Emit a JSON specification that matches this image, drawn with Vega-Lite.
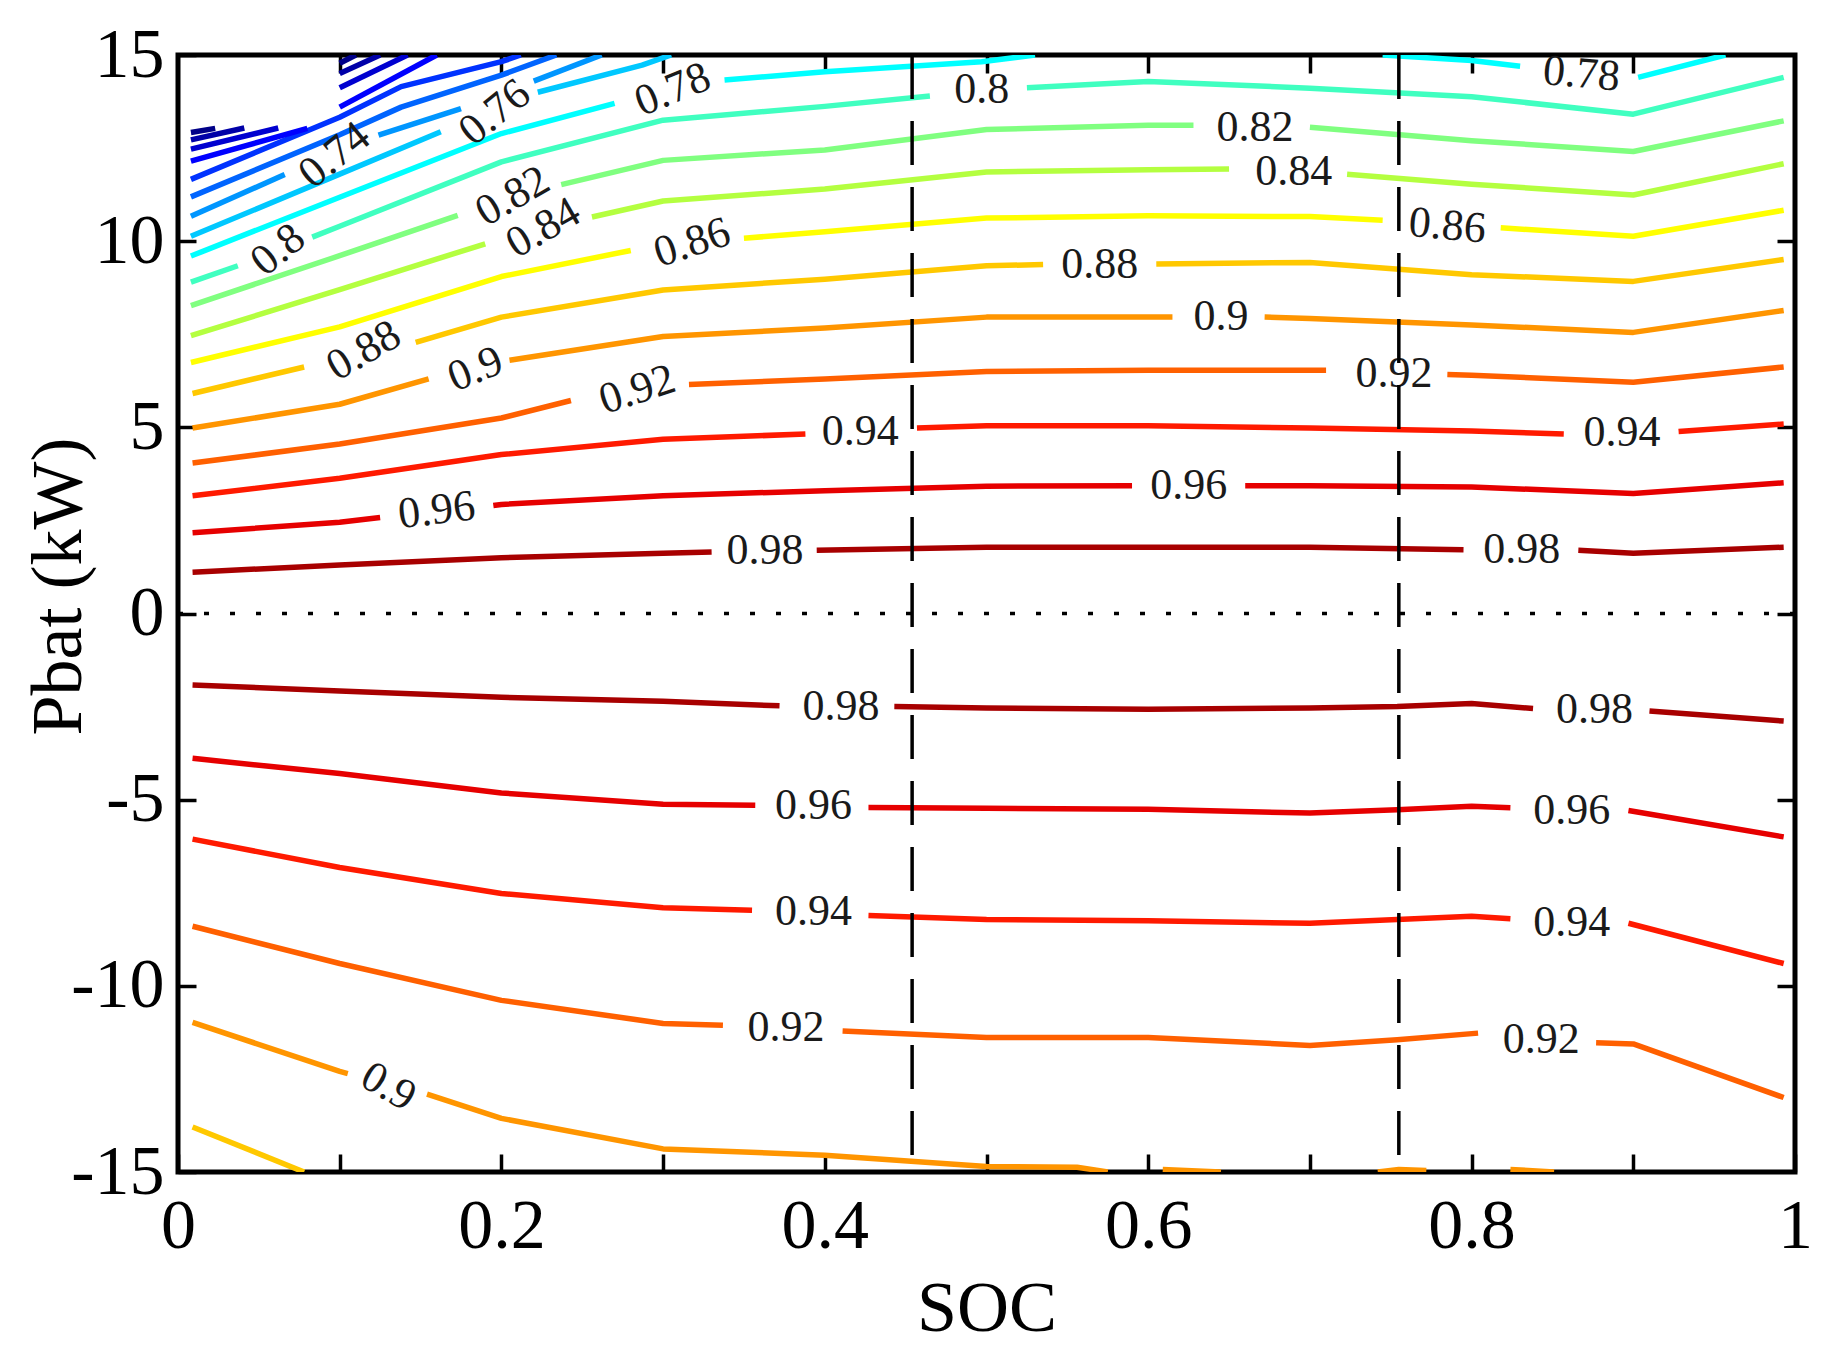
{
  "$schema": "https://vega.github.io/schema/vega-lite/v6.json",
  "description": "Contour map of efficiency over SOC and battery power Pbat, with labelled iso-efficiency lines.",
  "width": 1617,
  "height": 1117,
  "autosize": {"type": "none"},
  "padding": {"left": 178, "top": 55, "right": 33, "bottom": 192},
  "background": "white",
  "datasets": {
    "contours": [
      {"level": "0.98", "seg": "a1", "soc": 0.009, "p": 1.11}, {"level": "0.98", "seg": "a1", "soc": 0.1, "p": 1.30}, {"level": "0.98", "seg": "a1", "soc": 0.2, "p": 1.50}, {"level": "0.98", "seg": "a1", "soc": 0.3, "p": 1.62}, {"level": "0.98", "seg": "a1", "soc": 0.33, "p": 1.65},
      {"level": "0.98", "seg": "a2", "soc": 0.395, "p": 1.70}, {"level": "0.98", "seg": "a2", "soc": 0.5, "p": 1.78}, {"level": "0.98", "seg": "a2", "soc": 0.6, "p": 1.78}, {"level": "0.98", "seg": "a2", "soc": 0.7, "p": 1.78}, {"level": "0.98", "seg": "a2", "soc": 0.795, "p": 1.71},
      {"level": "0.98", "seg": "a3", "soc": 0.866, "p": 1.70}, {"level": "0.98", "seg": "a3", "soc": 0.9, "p": 1.62}, {"level": "0.98", "seg": "a3", "soc": 0.993, "p": 1.78},
      {"level": "0.98", "seg": "a4", "soc": 0.009, "p": -1.92}, {"level": "0.98", "seg": "a4", "soc": 0.1, "p": -2.08}, {"level": "0.98", "seg": "a4", "soc": 0.2, "p": -2.25}, {"level": "0.98", "seg": "a4", "soc": 0.3, "p": -2.36}, {"level": "0.98", "seg": "a4", "soc": 0.372, "p": -2.48},
      {"level": "0.98", "seg": "a5", "soc": 0.443, "p": -2.50}, {"level": "0.98", "seg": "a5", "soc": 0.5, "p": -2.54}, {"level": "0.98", "seg": "a5", "soc": 0.6, "p": -2.57}, {"level": "0.98", "seg": "a5", "soc": 0.7, "p": -2.54}, {"level": "0.98", "seg": "a5", "soc": 0.754, "p": -2.50}, {"level": "0.98", "seg": "a5", "soc": 0.8, "p": -2.42}, {"level": "0.98", "seg": "a5", "soc": 0.838, "p": -2.55},
      {"level": "0.98", "seg": "a6", "soc": 0.91, "p": -2.62}, {"level": "0.98", "seg": "a6", "soc": 0.993, "p": -2.89},

      {"level": "0.96", "seg": "b1", "soc": 0.009, "p": 2.17}, {"level": "0.96", "seg": "b1", "soc": 0.1, "p": 2.45}, {"level": "0.96", "seg": "b1", "soc": 0.125, "p": 2.58},
      {"level": "0.96", "seg": "b2", "soc": 0.195, "p": 2.90}, {"level": "0.96", "seg": "b2", "soc": 0.2, "p": 2.93}, {"level": "0.96", "seg": "b2", "soc": 0.3, "p": 3.16}, {"level": "0.96", "seg": "b2", "soc": 0.4, "p": 3.30}, {"level": "0.96", "seg": "b2", "soc": 0.5, "p": 3.42}, {"level": "0.96", "seg": "b2", "soc": 0.59, "p": 3.43},
      {"level": "0.96", "seg": "b3", "soc": 0.66, "p": 3.43}, {"level": "0.96", "seg": "b3", "soc": 0.7, "p": 3.43}, {"level": "0.96", "seg": "b3", "soc": 0.8, "p": 3.40}, {"level": "0.96", "seg": "b3", "soc": 0.9, "p": 3.22}, {"level": "0.96", "seg": "b3", "soc": 0.993, "p": 3.51},
      {"level": "0.96", "seg": "b4", "soc": 0.009, "p": -3.89}, {"level": "0.96", "seg": "b4", "soc": 0.1, "p": -4.30}, {"level": "0.96", "seg": "b4", "soc": 0.2, "p": -4.82}, {"level": "0.96", "seg": "b4", "soc": 0.3, "p": -5.12}, {"level": "0.96", "seg": "b4", "soc": 0.357, "p": -5.15},
      {"level": "0.96", "seg": "b5", "soc": 0.427, "p": -5.21}, {"level": "0.96", "seg": "b5", "soc": 0.5, "p": -5.23}, {"level": "0.96", "seg": "b5", "soc": 0.6, "p": -5.26}, {"level": "0.96", "seg": "b5", "soc": 0.7, "p": -5.36}, {"level": "0.96", "seg": "b5", "soc": 0.754, "p": -5.27}, {"level": "0.96", "seg": "b5", "soc": 0.8, "p": -5.18}, {"level": "0.96", "seg": "b5", "soc": 0.824, "p": -5.22},
      {"level": "0.96", "seg": "b6", "soc": 0.897, "p": -5.29}, {"level": "0.96", "seg": "b6", "soc": 0.993, "p": -6.0},

      {"level": "0.94", "seg": "c1", "soc": 0.009, "p": 3.16}, {"level": "0.94", "seg": "c1", "soc": 0.1, "p": 3.63}, {"level": "0.94", "seg": "c1", "soc": 0.2, "p": 4.27}, {"level": "0.94", "seg": "c1", "soc": 0.3, "p": 4.68}, {"level": "0.94", "seg": "c1", "soc": 0.388, "p": 4.82},
      {"level": "0.94", "seg": "c2", "soc": 0.457, "p": 4.98}, {"level": "0.94", "seg": "c2", "soc": 0.5, "p": 5.04}, {"level": "0.94", "seg": "c2", "soc": 0.6, "p": 5.04}, {"level": "0.94", "seg": "c2", "soc": 0.7, "p": 4.98}, {"level": "0.94", "seg": "c2", "soc": 0.8, "p": 4.90}, {"level": "0.94", "seg": "c2", "soc": 0.857, "p": 4.82},
      {"level": "0.94", "seg": "c3", "soc": 0.928, "p": 4.89}, {"level": "0.94", "seg": "c3", "soc": 0.993, "p": 5.09},
      {"level": "0.94", "seg": "c4", "soc": 0.009, "p": -6.06}, {"level": "0.94", "seg": "c4", "soc": 0.1, "p": -6.82}, {"level": "0.94", "seg": "c4", "soc": 0.2, "p": -7.52}, {"level": "0.94", "seg": "c4", "soc": 0.3, "p": -7.90}, {"level": "0.94", "seg": "c4", "soc": 0.355, "p": -7.97},
      {"level": "0.94", "seg": "c5", "soc": 0.427, "p": -8.11}, {"level": "0.94", "seg": "c5", "soc": 0.5, "p": -8.22}, {"level": "0.94", "seg": "c5", "soc": 0.6, "p": -8.25}, {"level": "0.94", "seg": "c5", "soc": 0.7, "p": -8.32}, {"level": "0.94", "seg": "c5", "soc": 0.754, "p": -8.22}, {"level": "0.94", "seg": "c5", "soc": 0.8, "p": -8.13}, {"level": "0.94", "seg": "c5", "soc": 0.824, "p": -8.20},
      {"level": "0.94", "seg": "c6", "soc": 0.897, "p": -8.32}, {"level": "0.94", "seg": "c6", "soc": 0.993, "p": -9.40},

      {"level": "0.92", "seg": "d1", "soc": 0.009, "p": 4.04}, {"level": "0.92", "seg": "d1", "soc": 0.1, "p": 4.55}, {"level": "0.92", "seg": "d1", "soc": 0.2, "p": 5.25}, {"level": "0.92", "seg": "d1", "soc": 0.243, "p": 5.72},
      {"level": "0.92", "seg": "d2", "soc": 0.316, "p": 6.15}, {"level": "0.92", "seg": "d2", "soc": 0.4, "p": 6.30}, {"level": "0.92", "seg": "d2", "soc": 0.5, "p": 6.50}, {"level": "0.92", "seg": "d2", "soc": 0.6, "p": 6.53}, {"level": "0.92", "seg": "d2", "soc": 0.71, "p": 6.53},
      {"level": "0.92", "seg": "d3", "soc": 0.785, "p": 6.42}, {"level": "0.92", "seg": "d3", "soc": 0.8, "p": 6.40}, {"level": "0.92", "seg": "d3", "soc": 0.9, "p": 6.21}, {"level": "0.92", "seg": "d3", "soc": 0.993, "p": 6.62},
      {"level": "0.92", "seg": "d4", "soc": 0.009, "p": -8.40}, {"level": "0.92", "seg": "d4", "soc": 0.1, "p": -9.40}, {"level": "0.92", "seg": "d4", "soc": 0.2, "p": -10.39}, {"level": "0.92", "seg": "d4", "soc": 0.3, "p": -11.01}, {"level": "0.92", "seg": "d4", "soc": 0.337, "p": -11.06},
      {"level": "0.92", "seg": "d5", "soc": 0.411, "p": -11.21}, {"level": "0.92", "seg": "d5", "soc": 0.5, "p": -11.39}, {"level": "0.92", "seg": "d5", "soc": 0.6, "p": -11.39}, {"level": "0.92", "seg": "d5", "soc": 0.7, "p": -11.60}, {"level": "0.92", "seg": "d5", "soc": 0.754, "p": -11.45}, {"level": "0.92", "seg": "d5", "soc": 0.804, "p": -11.27},
      {"level": "0.92", "seg": "d6", "soc": 0.877, "p": -11.53}, {"level": "0.92", "seg": "d6", "soc": 0.9, "p": -11.56}, {"level": "0.92", "seg": "d6", "soc": 0.993, "p": -13.0},

      {"level": "0.9", "seg": "e1", "soc": 0.009, "p": 4.98}, {"level": "0.9", "seg": "e1", "soc": 0.1, "p": 5.62}, {"level": "0.9", "seg": "e1", "soc": 0.155, "p": 6.30},
      {"level": "0.9", "seg": "e2", "soc": 0.205, "p": 6.80}, {"level": "0.9", "seg": "e2", "soc": 0.3, "p": 7.44}, {"level": "0.9", "seg": "e2", "soc": 0.4, "p": 7.67}, {"level": "0.9", "seg": "e2", "soc": 0.5, "p": 7.96}, {"level": "0.9", "seg": "e2", "soc": 0.615, "p": 7.96},
      {"level": "0.9", "seg": "e3", "soc": 0.672, "p": 7.96}, {"level": "0.9", "seg": "e3", "soc": 0.7, "p": 7.92}, {"level": "0.9", "seg": "e3", "soc": 0.8, "p": 7.75}, {"level": "0.9", "seg": "e3", "soc": 0.9, "p": 7.55}, {"level": "0.9", "seg": "e3", "soc": 0.993, "p": 8.14},
      {"level": "0.9", "seg": "e4", "soc": 0.009, "p": -10.98}, {"level": "0.9", "seg": "e4", "soc": 0.1, "p": -12.30}, {"level": "0.9", "seg": "e4", "soc": 0.105, "p": -12.36},
      {"level": "0.9", "seg": "e5", "soc": 0.154, "p": -12.91}, {"level": "0.9", "seg": "e5", "soc": 0.2, "p": -13.56}, {"level": "0.9", "seg": "e5", "soc": 0.3, "p": -14.38}, {"level": "0.9", "seg": "e5", "soc": 0.4, "p": -14.55}, {"level": "0.9", "seg": "e5", "soc": 0.5, "p": -14.85}, {"level": "0.9", "seg": "e5", "soc": 0.556, "p": -14.87}, {"level": "0.9", "seg": "e5", "soc": 0.575, "p": -15.0},
      {"level": "0.9", "seg": "e6", "soc": 0.609, "p": -14.93}, {"level": "0.9", "seg": "e6", "soc": 0.645, "p": -15.0},
      {"level": "0.9", "seg": "e7", "soc": 0.742, "p": -15.0}, {"level": "0.9", "seg": "e7", "soc": 0.755, "p": -14.93}, {"level": "0.9", "seg": "e7", "soc": 0.772, "p": -14.96},
      {"level": "0.9", "seg": "e8", "soc": 0.824, "p": -14.93}, {"level": "0.9", "seg": "e8", "soc": 0.851, "p": -15.0},

      {"level": "0.88", "seg": "f1", "soc": 0.009, "p": 5.91}, {"level": "0.88", "seg": "f1", "soc": 0.078, "p": 6.62},
      {"level": "0.88", "seg": "f2", "soc": 0.147, "p": 7.28}, {"level": "0.88", "seg": "f2", "soc": 0.2, "p": 7.96}, {"level": "0.88", "seg": "f2", "soc": 0.3, "p": 8.69}, {"level": "0.88", "seg": "f2", "soc": 0.4, "p": 8.98}, {"level": "0.88", "seg": "f2", "soc": 0.5, "p": 9.34}, {"level": "0.88", "seg": "f2", "soc": 0.535, "p": 9.37},
      {"level": "0.88", "seg": "f3", "soc": 0.605, "p": 9.39}, {"level": "0.88", "seg": "f3", "soc": 0.7, "p": 9.43}, {"level": "0.88", "seg": "f3", "soc": 0.8, "p": 9.10}, {"level": "0.88", "seg": "f3", "soc": 0.9, "p": 8.92}, {"level": "0.88", "seg": "f3", "soc": 0.993, "p": 9.51},
      {"level": "0.88", "seg": "f4", "soc": 0.009, "p": -13.79}, {"level": "0.88", "seg": "f4", "soc": 0.078, "p": -15.0},

      {"level": "0.86", "seg": "g1", "soc": 0.008, "p": 6.74}, {"level": "0.86", "seg": "g1", "soc": 0.1, "p": 7.70}, {"level": "0.86", "seg": "g1", "soc": 0.2, "p": 9.05}, {"level": "0.86", "seg": "g1", "soc": 0.28, "p": 9.75},
      {"level": "0.86", "seg": "g2", "soc": 0.35, "p": 10.08}, {"level": "0.86", "seg": "g2", "soc": 0.4, "p": 10.25}, {"level": "0.86", "seg": "g2", "soc": 0.5, "p": 10.62}, {"level": "0.86", "seg": "g2", "soc": 0.6, "p": 10.68}, {"level": "0.86", "seg": "g2", "soc": 0.7, "p": 10.66}, {"level": "0.86", "seg": "g2", "soc": 0.745, "p": 10.56},
      {"level": "0.86", "seg": "g3", "soc": 0.818, "p": 10.36}, {"level": "0.86", "seg": "g3", "soc": 0.9, "p": 10.13}, {"level": "0.86", "seg": "g3", "soc": 0.993, "p": 10.83},

      {"level": "0.84", "seg": "h1", "soc": 0.008, "p": 7.46}, {"level": "0.84", "seg": "h1", "soc": 0.1, "p": 8.70}, {"level": "0.84", "seg": "h1", "soc": 0.19, "p": 9.93},
      {"level": "0.84", "seg": "h2", "soc": 0.256, "p": 10.65}, {"level": "0.84", "seg": "h2", "soc": 0.3, "p": 11.08}, {"level": "0.84", "seg": "h2", "soc": 0.4, "p": 11.40}, {"level": "0.84", "seg": "h2", "soc": 0.5, "p": 11.86}, {"level": "0.84", "seg": "h2", "soc": 0.6, "p": 11.92}, {"level": "0.84", "seg": "h2", "soc": 0.65, "p": 11.94},
      {"level": "0.84", "seg": "h3", "soc": 0.723, "p": 11.80}, {"level": "0.84", "seg": "h3", "soc": 0.8, "p": 11.53}, {"level": "0.84", "seg": "h3", "soc": 0.9, "p": 11.24}, {"level": "0.84", "seg": "h3", "soc": 0.993, "p": 12.08},

      {"level": "0.82", "seg": "i1", "soc": 0.008, "p": 8.27}, {"level": "0.82", "seg": "i1", "soc": 0.1, "p": 9.61}, {"level": "0.82", "seg": "i1", "soc": 0.173, "p": 10.69},
      {"level": "0.82", "seg": "i2", "soc": 0.237, "p": 11.52}, {"level": "0.82", "seg": "i2", "soc": 0.3, "p": 12.17}, {"level": "0.82", "seg": "i2", "soc": 0.4, "p": 12.45}, {"level": "0.82", "seg": "i2", "soc": 0.5, "p": 13.0}, {"level": "0.82", "seg": "i2", "soc": 0.6, "p": 13.11}, {"level": "0.82", "seg": "i2", "soc": 0.628, "p": 13.11},
      {"level": "0.82", "seg": "i3", "soc": 0.70, "p": 13.06}, {"level": "0.82", "seg": "i3", "soc": 0.8, "p": 12.70}, {"level": "0.82", "seg": "i3", "soc": 0.9, "p": 12.41}, {"level": "0.82", "seg": "i3", "soc": 0.993, "p": 13.23},

      {"level": "0.8", "seg": "j1", "soc": 0.008, "p": 8.90}, {"level": "0.8", "seg": "j1", "soc": 0.037, "p": 9.34},
      {"level": "0.8", "seg": "j2", "soc": 0.083, "p": 10.11}, {"level": "0.8", "seg": "j2", "soc": 0.1, "p": 10.40}, {"level": "0.8", "seg": "j2", "soc": 0.2, "p": 12.13}, {"level": "0.8", "seg": "j2", "soc": 0.3, "p": 13.25}, {"level": "0.8", "seg": "j2", "soc": 0.4, "p": 13.62}, {"level": "0.8", "seg": "j2", "soc": 0.465, "p": 13.90},
      {"level": "0.8", "seg": "j3", "soc": 0.525, "p": 14.12}, {"level": "0.8", "seg": "j3", "soc": 0.6, "p": 14.29}, {"level": "0.8", "seg": "j3", "soc": 0.7, "p": 14.11}, {"level": "0.8", "seg": "j3", "soc": 0.8, "p": 13.88}, {"level": "0.8", "seg": "j3", "soc": 0.9, "p": 13.41}, {"level": "0.8", "seg": "j3", "soc": 0.993, "p": 14.40},

      {"level": "0.78", "seg": "k1", "soc": 0.008, "p": 9.60}, {"level": "0.78", "seg": "k1", "soc": 0.1, "p": 11.18}, {"level": "0.78", "seg": "k1", "soc": 0.2, "p": 12.89}, {"level": "0.78", "seg": "k1", "soc": 0.27, "p": 13.70},
      {"level": "0.78", "seg": "k2", "soc": 0.338, "p": 14.33}, {"level": "0.78", "seg": "k2", "soc": 0.4, "p": 14.55}, {"level": "0.78", "seg": "k2", "soc": 0.497, "p": 14.82}, {"level": "0.78", "seg": "k2", "soc": 0.53, "p": 15.0},
      {"level": "0.78", "seg": "k3", "soc": 0.745, "p": 15.0}, {"level": "0.78", "seg": "k3", "soc": 0.8, "p": 14.85}, {"level": "0.78", "seg": "k3", "soc": 0.83, "p": 14.70},
      {"level": "0.78", "seg": "k4", "soc": 0.903, "p": 14.40}, {"level": "0.78", "seg": "k4", "soc": 0.957, "p": 15.0},

      {"level": "0.76", "seg": "l1", "soc": 0.008, "p": 10.13}, {"level": "0.76", "seg": "l1", "soc": 0.1, "p": 11.80}, {"level": "0.76", "seg": "l1", "soc": 0.1625, "p": 12.94},
      {"level": "0.76", "seg": "l2", "soc": 0.2225, "p": 14.0}, {"level": "0.76", "seg": "l2", "soc": 0.287, "p": 14.73}, {"level": "0.76", "seg": "l2", "soc": 0.305, "p": 15.0},

      {"level": "0.74", "seg": "m1", "soc": 0.008, "p": 10.67}, {"level": "0.74", "seg": "m1", "soc": 0.066, "p": 11.79},
      {"level": "0.74", "seg": "m2", "soc": 0.124, "p": 12.85}, {"level": "0.74", "seg": "m2", "soc": 0.175, "p": 13.56},
      {"level": "0.74", "seg": "m3", "soc": 0.22, "p": 14.30}, {"level": "0.74", "seg": "m3", "soc": 0.262, "p": 15.0},

      {"level": "0.72", "seg": "n1", "soc": 0.008, "p": 11.19}, {"level": "0.72", "seg": "n1", "soc": 0.1, "p": 12.86}, {"level": "0.72", "seg": "n1", "soc": 0.138, "p": 13.6}, {"level": "0.72", "seg": "n1", "soc": 0.2, "p": 14.46}, {"level": "0.72", "seg": "n1", "soc": 0.234, "p": 15.0},

      {"level": "0.7", "seg": "o1", "soc": 0.008, "p": 11.66}, {"level": "0.7", "seg": "o1", "soc": 0.1, "p": 13.33}, {"level": "0.7", "seg": "o1", "soc": 0.138, "p": 14.15}, {"level": "0.7", "seg": "o1", "soc": 0.2, "p": 14.82}, {"level": "0.7", "seg": "o1", "soc": 0.212, "p": 15.0},

      {"level": "0.68", "seg": "p1", "soc": 0.008, "p": 12.15}, {"level": "0.68", "seg": "p1", "soc": 0.08, "p": 13.03},
      {"level": "0.68", "seg": "p2", "soc": 0.1, "p": 13.6}, {"level": "0.68", "seg": "p2", "soc": 0.16, "p": 15.0},
      {"level": "0.66", "seg": "q1", "soc": 0.008, "p": 12.47}, {"level": "0.66", "seg": "q1", "soc": 0.062, "p": 13.04},
      {"level": "0.66", "seg": "q2", "soc": 0.1, "p": 14.12}, {"level": "0.66", "seg": "q2", "soc": 0.142, "p": 15.0},
      {"level": "0.64", "seg": "r1", "soc": 0.008, "p": 12.72}, {"level": "0.64", "seg": "r1", "soc": 0.041, "p": 13.04},
      {"level": "0.64", "seg": "r2", "soc": 0.1, "p": 14.5}, {"level": "0.64", "seg": "r2", "soc": 0.125, "p": 15.0},
      {"level": "0.62", "seg": "s1", "soc": 0.008, "p": 12.92}, {"level": "0.62", "seg": "s1", "soc": 0.023, "p": 13.03},
      {"level": "0.62", "seg": "s2", "soc": 0.1, "p": 14.78}, {"level": "0.62", "seg": "s2", "soc": 0.11, "p": 15.0}
    ],
    "labels": [
      {"txt": "0.98", "soc": 0.363, "p": 1.67, "tilt": "flat"},
      {"txt": "0.98", "soc": 0.831, "p": 1.70, "tilt": "flat"},
      {"txt": "0.96", "soc": 0.16, "p": 2.76, "tilt": "slight"},
      {"txt": "0.96", "soc": 0.625, "p": 3.42, "tilt": "flat"},
      {"txt": "0.94", "soc": 0.422, "p": 4.88, "tilt": "flat"},
      {"txt": "0.94", "soc": 0.893, "p": 4.84, "tilt": "flat"},
      {"txt": "0.92", "soc": 0.284, "p": 6.0, "tilt": "gentle"},
      {"txt": "0.92", "soc": 0.752, "p": 6.44, "tilt": "flat"},
      {"txt": "0.9", "soc": 0.184, "p": 6.55, "tilt": "mid"},
      {"txt": "0.9", "soc": 0.645, "p": 7.96, "tilt": "flat"},
      {"txt": "0.88", "soc": 0.115, "p": 7.05, "tilt": "midsteep"},
      {"txt": "0.88", "soc": 0.57, "p": 9.36, "tilt": "flat"},
      {"txt": "0.86", "soc": 0.318, "p": 9.95, "tilt": "gentle"},
      {"txt": "0.86", "soc": 0.785, "p": 10.40, "tilt": "down"},
      {"txt": "0.84", "soc": 0.226, "p": 10.35, "tilt": "midsteep"},
      {"txt": "0.84", "soc": 0.69, "p": 11.85, "tilt": "flat"},
      {"txt": "0.82", "soc": 0.207, "p": 11.2, "tilt": "midsteep"},
      {"txt": "0.82", "soc": 0.666, "p": 13.04, "tilt": "flat"},
      {"txt": "0.8", "soc": 0.062, "p": 9.76, "tilt": "steep"},
      {"txt": "0.8", "soc": 0.497, "p": 14.05, "tilt": "flat"},
      {"txt": "0.78", "soc": 0.306, "p": 14.06, "tilt": "mid"},
      {"txt": "0.78", "soc": 0.868, "p": 14.48, "tilt": "down"},
      {"txt": "0.76", "soc": 0.196, "p": 13.45, "tilt": "steep"},
      {"txt": "0.74", "soc": 0.097, "p": 12.3, "tilt": "steep"},
      {"txt": "0.98", "soc": 0.41, "p": -2.52, "tilt": "flat"},
      {"txt": "0.98", "soc": 0.876, "p": -2.60, "tilt": "flat"},
      {"txt": "0.96", "soc": 0.393, "p": -5.18, "tilt": "flat"},
      {"txt": "0.96", "soc": 0.862, "p": -5.30, "tilt": "flat"},
      {"txt": "0.94", "soc": 0.393, "p": -8.02, "tilt": "flat"},
      {"txt": "0.94", "soc": 0.862, "p": -8.30, "tilt": "flat"},
      {"txt": "0.92", "soc": 0.376, "p": -11.14, "tilt": "flat"},
      {"txt": "0.92", "soc": 0.843, "p": -11.45, "tilt": "flat"},
      {"txt": "0.9", "soc": 0.13, "p": -12.72, "tilt": "downsteep"}
    ]
  },
  "layer": [
    {
      "data": {"name": "contours"},
      "mark": {"type": "line", "strokeWidth": 5.5, "strokeCap": "butt", "strokeJoin": "round", "clip": true},
      "encoding": {
        "x": {
          "field": "soc",
          "type": "quantitative",
          "scale": {"domain": [0, 1], "nice": false, "zero": false},
          "axis": {
            "orient": "bottom",
            "title": "SOC",
            "values": [0, 0.1, 0.2, 0.3, 0.4, 0.5, 0.6, 0.7, 0.8, 0.9, 1],
            "labelExpr": "round(datum.value * 10) % 2 == 0 ? '' + round(datum.value * 10) / 10 : ''",
            "labelFlush": false,
            "labelPadding": 38,
            "titlePadding": 12
          }
        },
        "y": {
          "field": "p",
          "type": "quantitative",
          "scale": {"domain": [-15, 15], "nice": false, "zero": false},
          "axis": {
            "orient": "left",
            "title": "Pbat (kW)",
            "values": [-15, -10, -5, 0, 5, 10, 15],
            "labelExpr": "'' + datum.value",
            "labelFlush": false,
            "labelPadding": 32,
            "titleX": -98,
            "titleY": 531,
            "titleAngle": -90,
            "titleBaseline": "alphabetic",
            "titleAlign": "center"
          }
        },
        "color": {
          "field": "level",
          "type": "nominal",
          "scale": {
            "domain": ["0.62", "0.64", "0.66", "0.68", "0.7", "0.72", "0.74", "0.76", "0.78", "0.8", "0.82", "0.84", "0.86", "0.88", "0.9", "0.92", "0.94", "0.96", "0.98"],
            "range": ["#000088", "#0000a8", "#0000d0", "#0000ff", "#0032ff", "#0064ff", "#0096ff", "#00c8ff", "#00ffff", "#40ffc0", "#80ff80", "#b4ff40", "#ffff00", "#ffc800", "#ff9500", "#ff6000", "#ff1a00", "#e60000", "#a80000"]
          },
          "legend": null
        },
        "detail": {"field": "seg", "type": "nominal"}
      }
    },
    {
      "data": {"name": "labels"},
      "encoding": {
        "x": {"field": "soc", "type": "quantitative", "axis": null},
        "y": {"field": "p", "type": "quantitative", "axis": null},
        "text": {"field": "txt"}
      },
      "layer": [
        {"transform": [{"filter": "datum.tilt == 'steep'"}], "mark": {"type": "text", "angle": -39}},
        {"transform": [{"filter": "datum.tilt == 'midsteep'"}], "mark": {"type": "text", "angle": -30}},
        {"transform": [{"filter": "datum.tilt == 'mid'"}], "mark": {"type": "text", "angle": -22}},
        {"transform": [{"filter": "datum.tilt == 'gentle'"}], "mark": {"type": "text", "angle": -18}},
        {"transform": [{"filter": "datum.tilt == 'slight'"}], "mark": {"type": "text", "angle": -7}},
        {"transform": [{"filter": "datum.tilt == 'flat'"}], "mark": {"type": "text", "angle": 0}},
        {"transform": [{"filter": "datum.tilt == 'down'"}], "mark": {"type": "text", "angle": 5}},
        {"transform": [{"filter": "datum.tilt == 'downsteep'"}], "mark": {"type": "text", "angle": 30}}
      ]
    },
    {
      "data": {"values": [{"soc": 0.454}, {"soc": 0.755}]},
      "mark": {"type": "rule", "color": "#000", "strokeWidth": 3.5, "strokeDash": [44, 22]},
      "encoding": {
        "x": {
          "field": "soc",
          "type": "quantitative",
          "axis": {"orient": "top", "labels": false, "title": null, "values": [0.1, 0.2, 0.3, 0.4, 0.5, 0.6, 0.7, 0.8, 0.9]}
        }
      }
    },
    {
      "data": {"values": [{"p": 0}]},
      "mark": {"type": "rule", "color": "#000", "strokeWidth": 3.5, "strokeDash": [5, 21]},
      "encoding": {
        "y": {
          "field": "p",
          "type": "quantitative",
          "axis": {"orient": "right", "labels": false, "title": null, "values": [-10, -5, 0, 5, 10]}
        }
      }
    }
  ],
  "resolve": {"axis": {"x": "independent", "y": "independent"}},
  "config": {
    "font": "Liberation Serif",
    "view": {"stroke": "#000", "strokeWidth": 5},
    "text": {"font": "Liberation Serif", "fontSize": 44, "color": "#1a1a1a", "align": "center", "baseline": "middle"},
    "axis": {
      "domain": false,
      "grid": false,
      "ticks": true,
      "tickColor": "#000",
      "tickWidth": 3.5,
      "tickSize": -18,
      "labelFont": "Liberation Serif",
      "labelFontSize": 70,
      "labelColor": "#000",
      "titleFont": "Liberation Serif",
      "titleFontSize": 72,
      "titleFontWeight": "normal",
      "titleColor": "#000"
    }
  }
}
